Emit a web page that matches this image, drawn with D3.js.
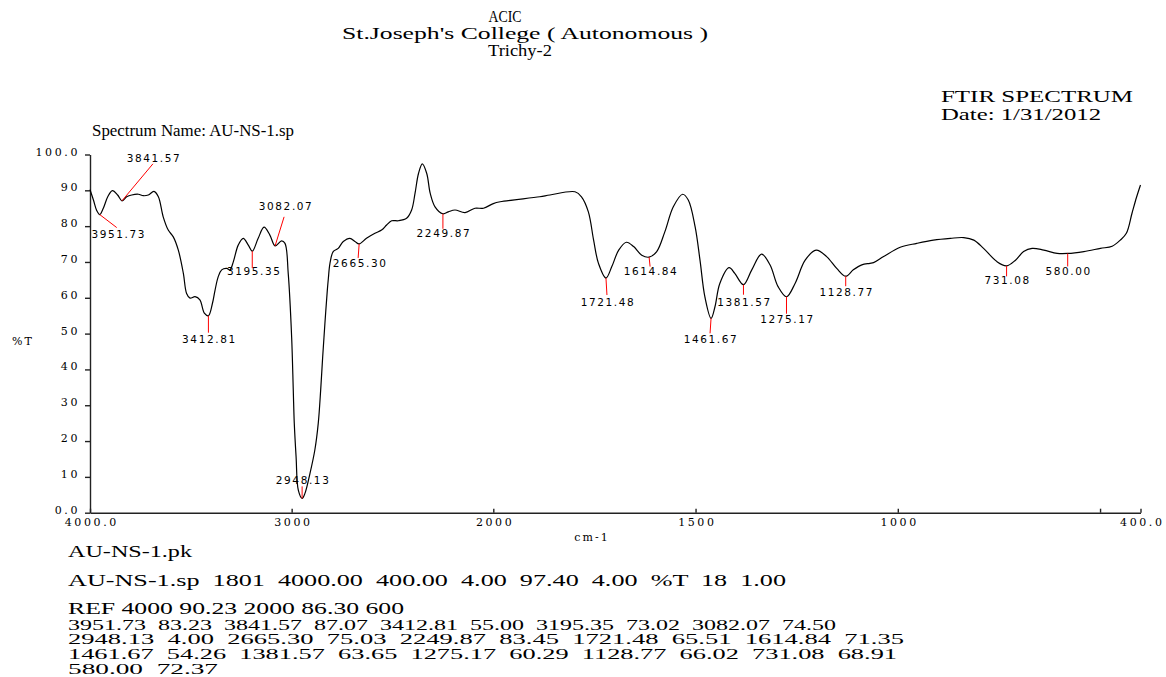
<!DOCTYPE html>
<html>
<head>
<meta charset="utf-8">
<script src="https://cdn.jsdelivr.net/npm/d3@7"></script>
<style>
  body { margin: 0; background: #fff; }
  svg { display: block; }
  .hdr { font-family: "Liberation Serif", "Times New Roman", serif; font-size: 16px; fill: #000; white-space: pre; }
  .tick text { font-family: "DejaVu Serif", serif; font-size: 11px; letter-spacing: 2.6px; fill: #000; }
  .peak-label { font-family: "DejaVu Sans", sans-serif; font-size: 10.5px; letter-spacing: 1.6px; fill: #000; }
</style>
</head>
<body>
<div id="chart"></div>
<script>
// spectrum trace (cm-1 / %T)
const wavenumbers = [4000, 3983, 3967, 3951.73, 3934, 3912, 3889, 3863, 3841.57, 3818, 3793, 3760, 3736, 3711, 3683,
  3661, 3637, 3612, 3587, 3562, 3537, 3521, 3504, 3479, 3455, 3433, 3412.81, 3393, 3380, 3364, 3347, 3322, 3306,
  3289, 3265, 3240, 3215, 3195.35, 3166, 3137, 3108, 3082.07, 3050, 3033, 3017, 3000, 2992, 2987, 2978, 2967,
  2948.13, 2934, 2909, 2885, 2868, 2856, 2846, 2835, 2823, 2818, 2810, 2794, 2769, 2744, 2711, 2686, 2665.30,
  2629, 2587, 2554, 2529, 2504, 2471, 2430, 2405, 2388, 2371, 2352, 2330, 2313, 2289, 2249.87, 2223, 2190, 2140,
  2091, 2049, 2000, 1983, 1885, 1860, 1798, 1782, 1765, 1752, 1740, 1721.48, 1707, 1690, 1671, 1653, 1633,
  1614.84, 1596, 1576, 1555, 1532, 1518, 1501, 1489, 1477, 1461.67, 1452, 1440, 1417, 1403, 1381.57, 1361, 1337,
  1316, 1296, 1275.17, 1254, 1229, 1202, 1176, 1151, 1128.77, 1110, 1089, 1069, 1060, 1035, 994, 953, 912, 870,
  837, 812, 788, 755, 731.08, 709, 689, 668, 639, 606, 580, 540, 499, 470, 450, 435, 421, 410, 400];
const transmittance = [90.2, 87.3, 84.4, 83.23, 85.0, 88.2, 89.9, 88.7, 87.07, 88.2, 88.7, 88.9, 88.5, 88.7, 89.7,
  88.2, 82.6, 78.9, 77.0, 73.3, 66.8, 61.2, 59.9, 60.3, 59.4, 55.7, 55.0, 58.4, 62.1, 65.9, 67.8, 68.2, 67.8,
  70.1, 74.7, 76.6, 74.7, 73.02, 76.6, 79.7, 77.5, 74.5, 75.9, 75.2, 66.8, 49.0, 34.3, 25.0, 15.6, 6.3,
  4.0, 5.4, 11.0, 17.5, 25.0, 34.3, 43.6, 52.9, 62.2, 65.4, 69.6, 72.9, 73.8, 75.7, 76.6, 75.7, 75.03,
  76.6, 78.0, 78.9, 80.3, 81.5, 81.5, 82.2, 84.5, 89.2, 94.7, 97.4, 94.7, 89.2, 85.4, 83.45, 84.0, 84.5, 83.8,
  85.0, 85.0, 86.3, 86.8, 88.2, 88.7, 89.6, 88.2, 84.0, 76.1, 69.6, 65.51, 68.7, 73.3, 75.5, 74.3, 71.9,
  71.35, 72.9, 78.4, 85.4, 88.9, 87.3, 79.8, 70.5, 60.3, 54.26, 57.5, 64.0, 68.4, 66.8, 63.65, 67.8, 72.2,
  69.2, 63.1, 60.29, 64.0, 70.5, 73.3, 71.5, 68.2, 66.02, 67.8, 69.2, 69.6, 69.8, 71.5, 74.1, 75.2, 76.1, 76.6,
  76.8, 76.1, 73.8, 70.1, 68.91, 70.5, 72.9, 73.8, 73.3, 72.4, 72.37, 72.9, 73.8, 74.4, 76.1, 78.0, 83.6, 88.0, 91.5];

// peak table
const peakWn = [3951.73, 3841.57, 3412.81, 3195.35, 3082.07, 2948.13, 2665.30, 2249.87,
  1721.48, 1614.84, 1461.67, 1381.57, 1275.17, 1128.77, 731.08, 580.00];
const peakT = [83.23, 87.07, 55.00, 73.02, 74.50, 4.00, 75.03, 83.45,
  65.51, 71.35, 54.26, 63.65, 60.29, 66.02, 68.91, 72.37];

const xTicks = [4000, 3000, 2000, 1500, 1000, 500, 400];
const xTickLabels = ["4000.0", "3000", "2000", "1500", "1000", "", "400.0"];
const yTicks = [0, 10, 20, 30, 40, 50, 60, 70, 80, 90, 100];
const yTickLabels = ["0.0", "10", "20", "30", "40", "50", "60", "70", "80", "90", "100.0"];

const titleLines = ["ACIC", "St.Joseph's College ( Autonomous )", "Trichy-2"];
const infoLines = ["FTIR SPECTRUM", "Date: 1/31/2012"];
const spectrumName = "Spectrum Name: AU-NS-1.sp";
const fileLines = ["AU-NS-1.pk",
  "AU-NS-1.sp  1801  4000.00  400.00  4.00  97.40  4.00  %T  18  1.00",
  "REF 4000 90.23 2000 86.30 600"];

const width = 1166, height = 677;

const svg = d3.select("#chart").append("svg")
  .attr("width", width)
  .attr("height", height);

svg.append("rect").attr("width", width).attr("height", height).attr("fill", "#fff");

// the wavenumber axis changes scale at 2000 cm-1
const x = d3.scaleLinear().domain([4000, 2000, 400]).range([90, 493.3, 1140.5]);
const y = d3.scaleLinear().domain([0, 100]).range([512.7, 154.5]);

// header text (stretched like the printout)
function stretchedText(str, px, py, w, anchor, size) {
  svg.append("text")
    .attr("class", "hdr")
    .attr("x", px)
    .attr("y", py)
    .attr("text-anchor", anchor || "start")
    .attr("textLength", w)
    .attr("lengthAdjust", "spacingAndGlyphs")
    .style("font-size", size ? size + "px" : null)
    .text(str);
}

stretchedText(titleLines[0], 505, 22, 33, "middle");
stretchedText(titleLines[1], 525, 39, 366, "middle");
stretchedText(titleLines[2], 520, 56, 64, "middle");
stretchedText(infoLines[0], 941, 102, 192);
stretchedText(infoLines[1], 941, 120, 160);
stretchedText(spectrumName, 92, 136, 202);

// axes
const xAxis = d3.axisBottom(x)
  .tickValues(xTicks)
  .tickSizeInner(-4)
  .tickSizeOuter(0)
  .tickPadding(6)
  .tickFormat((d, i) => xTickLabels[i]);

const yAxis = d3.axisLeft(y)
  .tickValues(yTicks)
  .tickSizeInner(5)
  .tickSizeOuter(0)
  .tickPadding(5)
  .tickFormat((d, i) => yTickLabels[i]);

const gx = svg.append("g").attr("transform", "translate(0," + y(0) + ")").call(xAxis);
gx.selectAll("text").attr("dx", "1.3");

const gy = svg.append("g").attr("transform", "translate(" + x(4000) + ",0)").call(yAxis);
gy.selectAll("text").attr("dy", "0.05em");

svg.selectAll(".domain, .tick line").attr("stroke", "#222").attr("stroke-width", 1.4);

svg.append("text")
  .attr("x", 592).attr("y", 541)
  .attr("text-anchor", "middle")
  .style("font-family", "DejaVu Serif, serif")
  .style("font-size", "11px")
  .style("letter-spacing", "2px")
  .text("cm-1");

svg.append("text")
  .attr("x", 12).attr("y", 345)
  .style("font-family", "DejaVu Serif, serif")
  .style("font-size", "11px")
  .style("letter-spacing", "2px")
  .text("%T");

// spectrum line
const points = wavenumbers.map((w, i) => ({ w: w, t: transmittance[i] }));

const line = d3.line()
  .x(d => x(d.w))
  .y(d => y(d.t))
  .curve(d3.curveCatmullRom.alpha(0.5));

svg.append("path")
  .datum(points)
  .attr("fill", "none")
  .attr("stroke", "#000")
  .attr("stroke-width", 1.2)
  .attr("d", line);

// peak markers: [leader dx, leader dy, label dx, label dy]
const labelOffsets = [
  [17, 13, 18, 23], [31, -37, 31, -39], [0, 17, 0, 27], [0, 17, 1, 24],
  [9, -29, 10, -36], [0, -12, 0, -14], [-1, 14, 0, 23], [0, 15, 0, 23.5],
  [1, 17, 1, 28], [1, 9.5, 1, 18], [-1, 15, -1, 25], [0, 10, 0, 21],
  [0, 17, 0, 26], [0, 10, 0, 20], [0, 10.5, 0, 18], [0, 13, 0, 22]
];

const peaks = peakWn.map((w, i) => ({ w: w, t: peakT[i], off: labelOffsets[i] }));

const pg = svg.append("g");
pg.selectAll("line")
  .data(peaks)
  .enter()
  .append("line")
  .attr("x1", d => x(d.w))
  .attr("y1", d => y(d.t))
  .attr("x2", d => x(d.w) + d.off[0])
  .attr("y2", d => y(d.t) + d.off[1])
  .attr("stroke", "#f00")
  .attr("stroke-width", 1);

pg.selectAll("text")
  .data(peaks)
  .enter()
  .append("text")
  .attr("class", "peak-label")
  .attr("x", d => x(d.w) + d.off[2] + 1)
  .attr("y", d => y(d.t) + d.off[3])
  .attr("text-anchor", "middle")
  .text(d => d.w.toFixed(2));

// peak listing under the chart
const peakRows = d3.range(0, peaks.length, 5).map(s =>
  peaks.slice(s, s + 5).map(p => p.w.toFixed(2) + "  " + p.t.toFixed(2)).join("  "));

stretchedText(fileLines[0], 68, 557, 124);
stretchedText(fileLines[1], 68, 586, 718);
stretchedText(fileLines[2], 68, 614, 336);

const rowWidths = [768, 836, 829, 150];
peakRows.forEach((row, i) => {
  stretchedText(row, 68, 629.5 + i * 14.8, rowWidths[i], "start", 15);
});
</script>
</body>
</html>
